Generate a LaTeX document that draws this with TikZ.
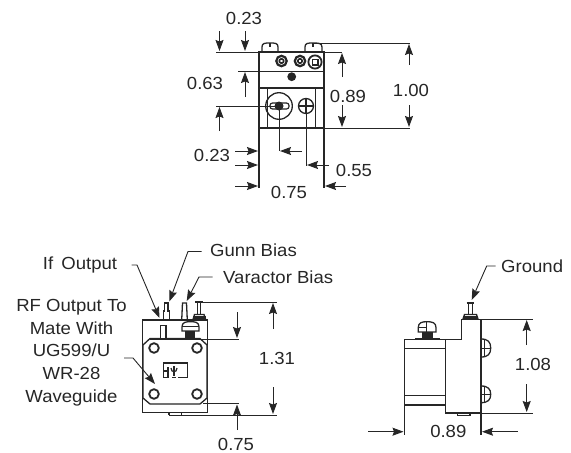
\documentclass[tikz,border=0pt]{standalone}
\usepackage{fontspec}
\setmainfont[FakeStretch=1.06]{Liberation Sans}
\usetikzlibrary{arrows.meta}
\definecolor{ink}{gray}{0.15}
\tikzset{
  x=1pt,y=-1pt,
  lab/.style={inner sep=0pt,text=ink,font=\fontsize{17.5}{20}\selectfont},
  body/.style={draw=ink,line width=1.3pt},
  thin/.style={draw=ink,line width=1pt},
  thick/.style={draw=ink,line width=2pt},
  dim/.style={draw=ink,line width=0.9pt,-{Stealth[length=11pt,width=8pt,inset=1.5pt]}},
  hole/.style={draw=ink,line width=1.8pt,fill=white},
  solid/.style={fill=ink,draw=none}
}
\begin{document}
\begin{tikzpicture}
\useasboundingbox (0,0) rectangle (571,453);
% ---- top view
\draw[body] (259,52) rectangle (324,128);
\draw[thin] (238,71) -- (324,71);
\draw[thick] (259,88) -- (324,88);
\draw[thin] (267,88) -- (267,128) (315,88) -- (315,128);
\draw[body] (262,52) -- (262,47) .. controls (262,43) and (265,43) .. (270,43) .. controls (275,43) and (278,43) .. (278,47) -- (278,52);
\draw[body] (305,52) -- (305,47) .. controls (305,43) and (308,43) .. (313,43) .. controls (318,43) and (322,43) .. (322,47) -- (322,52);
\fill[ink] (268.5,43) rectangle (271,46.5);
\fill[ink] (311.5,43) rectangle (314,46.5);
\foreach \cx in {281.5,300}{
  \draw[draw=ink,line width=2.2pt] (\cx,61) circle (5.2);
  \draw[draw=ink,line width=1.6pt] (\cx,61) circle (2.2);
}
\draw[draw=ink,line width=1.8pt] (315,62) circle (6.6);
\draw[draw=ink,line width=1.4pt] (312.2,59.2) rectangle (317.8,64.8);
\fill[ink] (291.7,76.7) circle (4.4);
\draw[draw=ink,line width=1.3pt] (279,106) circle (13.3);
\draw[draw=ink,line width=1.2pt,rounded corners=2.5pt] (270,103) rectangle (289,109);
\fill[ink] (279,106) circle (4.5);
\draw[draw=ink,line width=1.3pt] (306,106) circle (7.5);
\draw[draw=ink,line width=1.1pt] (298.5,106) -- (313.5,106) (306,98.5) -- (306,113.5);
\draw[thin] (216,52) -- (342,52);
\draw[thin] (312,43) -- (410,43);
\draw[thin] (259,128) -- (410,128);
\draw[thin] (216,106) -- (279,106) -- (279,151);
\draw[thin] (306,106) -- (306,166);
\draw[body] (259,128) -- (259,188) (324,128) -- (324,188);
\node[lab] (t023a) at (244,18) {0.23};
\node[lab] (t063) at (205,83) {0.63};
\node[lab] (t089a) at (348,96) {0.89};
\node[lab] (t100) at (411,90) {1.00};
\node[lab] (t023b) at (212,155) {0.23};
\node[lab] (t055) at (354,170) {0.55};
\node[lab] (t075a) at (289,192) {0.75};
\draw[dim] (219.5,31) -- (219.5,51);
\draw[dim] (245,31) -- (245,51);
\draw[dim] (245,97) -- (245,72);
\draw[dim] (219.5,131) -- (219.5,107);
\draw[dim] (342,77) -- (342,53);
\draw[dim] (342,105) -- (342,127);
\draw[dim] (409,65) -- (409,44);
\draw[dim] (409,105) -- (409,127);
\draw[dim] (235,151) -- (258,151);
\draw[dim] (302,151) -- (280,151);
\draw[dim] (235,165) -- (258,165);
\draw[dim] (329,165) -- (307,165);
\draw[dim] (235,186) -- (258,186);
\draw[dim] (346,186) -- (325,186);
% ---- front view
\draw[body] (142.7,320) rectangle (207.3,412.7);
\draw[body,fill=white] (143,345) -- (150,338.5) -- (200,338.5) -- (207,345) -- (207,398) -- (200,404) -- (150,404) -- (143,398) -- cycle;
\draw[thick] (150,338.5) -- (176,338.5);
\foreach \hx/\hy in {154/348,197/348,154/394,197/394}{
  \draw[hole] (\hx,\hy) circle (4.8);
}
\draw[thick] (163,362.5) -- (188,362.5);
\draw[thin] (163,362.5) -- (163,377) (187.5,362.5) -- (187.5,377);
\draw[thin] (163,377) -- (169,377) (172,377) -- (176,377) (178,377) -- (187.5,377);
\draw[draw=ink,line width=1.2pt] (163,371) -- (168,371) (168,367) -- (168,377) (174,366) -- (174,376);
\draw[draw=ink,line width=1.2pt] (171,368) .. controls (171,373) and (177,373) .. (177,368);
\draw[body,fill=white] (160.7,338) -- (160.7,325.7) -- (166,325.7) -- (166,338);
\draw[body] (163.3,320) -- (163.3,311) -- (164.5,311) -- (164.5,303) -- (168,303) -- (168,311) -- (169.3,311) -- (169.3,320);
\draw[body] (181.7,320) -- (182.5,303) -- (186.5,303) -- (187.3,320);
\draw[thick] (195,302) -- (203,302);
\draw[draw=ink,line width=1pt] (197.5,302) -- (197.5,314) (200.5,302) -- (200.5,314);
\draw[body] (193,319.5) -- (194.5,314.5) -- (204,314.5) -- (205.7,319.5);
\fill[ink] (193,316) rectangle (206,320);
\draw[body,fill=white] (182,331) -- (182,327) .. controls (182,322) and (186,321.7) .. (190.5,321.7) .. controls (195,321.7) and (199,322) .. (199,327) -- (199,331) -- cycle;
\draw[draw=ink,line width=1pt] (182,326.5) -- (199,326.5);
\fill[ink] (185,331) rectangle (195,338.5);
\draw[body] (169,412.7) -- (169,415.3) (181.7,412.7) -- (181.7,415.3);
\draw[thin] (203,302) -- (277,302);
\draw[thin] (176,339) -- (239,339);
\draw[thin] (203,403.5) -- (239,403.5);
\draw[thin] (169,415.3) -- (277,415.3);
\node[lab] (t131) at (277,358) {1.31};
\node[lab] (t075b) at (236,444) {0.75};
\draw[dim] (273,329) -- (273,303);
\draw[dim] (273,387) -- (273,414);
\draw[dim] (237,312) -- (237,338);
\draw[dim] (237,430) -- (237,404.5);
\node[lab] (ifo) at (80,265) {If\hspace{3pt} Output};
\node[lab,anchor=west] (gunn) at (210,250.7) {Gunn Bias};
\node[lab,anchor=west] (var) at (223,277.5) {Varactor Bias};
\node[lab,align=center] (rf) at (71.5,352.5) {RF Output To\\[2.7pt]Mate With\\[2.7pt]UG599/U\\[2.7pt]WR-28\\[2.7pt]Waveguide};
\coordinate (ifpin) at (159.5,318);
\coordinate (gunnpin) at (169.3,301.5);
\coordinate (varpin) at (186.7,301);
\coordinate (flange) at (155,384);
\draw[dim] (131.7,265) -- (137,265) -- (ifpin);
\draw[dim] (201.7,251.5) -- (188,251.5) -- (gunnpin);
\draw[dim] (212.7,277) -- (199,277) -- (varpin);
\draw[dim] (124,358) -- (133,358) -- (flange);
% ---- side view
\draw[body] (404.3,339.3) -- (461.7,339.3) -- (461.7,319.3) -- (481,319.3) -- (481,413) -- (445.7,413) -- (445.7,339.3);
\draw[body] (404.3,339.3) -- (404.3,405) -- (445.7,405);
\draw[thin] (404.3,348) -- (445.7,348) (404.3,395.7) -- (445.7,395.7);
\draw[thick] (445.7,413) -- (481,413);
\draw[body] (457.3,413) -- (457.3,415.7) -- (470,415.7) -- (470,413);
\foreach \sy/\sb in {339/357,386/402.7}{
  \draw[body] (481,\sy) .. controls (488,\sy) and (490.7,\sy+3) .. (490.7,{(\sy+\sb)/2}) .. controls (490.7,\sb-3) and (488,\sb) .. (481,\sb);
  \draw[thin] (481,{(\sy+\sb)/2}) -- (490.7,{(\sy+\sb)/2});
  \draw[thin] (484.5,\sy+1) -- (484.5,\sb-1);
}
\draw[body,fill=white] (418.3,332) -- (418.3,327.5) .. controls (418.3,322.5) and (422,321.7) .. (427,321.7) .. controls (432,321.7) and (436,322.5) .. (436,327.5) -- (436,332) -- cycle;
\draw[draw=ink,line width=1pt] (418.3,327) -- (426,327) (426,322) -- (426,332);
\fill[ink] (421.7,332) rectangle (432.7,339);
\fill[ink] (415,337.8) rectangle (440,339.8);
\draw[thick] (466.7,302.5) -- (474.3,302.5);
\draw[draw=ink,line width=1pt] (468.8,302.5) -- (468.8,314) (472.2,302.5) -- (472.2,314);
\draw[body] (463,319) -- (464.5,314.5) -- (476.5,314.5) -- (478,319);
\fill[ink] (463,316) rectangle (478,319.5);
\draw[thin] (481,319.3) -- (533,319.3);
\draw[thin] (481,413) -- (533,413);
\draw[body] (404.3,405) -- (404.3,435) (481,413) -- (481,435);
\node[lab] (t108) at (533,364) {1.08};
\node[lab] (t089b) at (448.3,431.7) {0.89};
\node[lab,anchor=west] (gnd) at (501,266) {Ground};
\coordinate (gndpin) at (471.7,300);
\draw[dim] (495.7,266) -- (486.7,266) -- (gndpin);
\draw[dim] (526.7,345) -- (526.7,320);
\draw[dim] (526.7,384) -- (526.7,412);
\draw[dim] (368,431.7) -- (403.5,431.7);
\draw[dim] (517.7,431.7) -- (482,431.7);
\end{tikzpicture}
\end{document}
